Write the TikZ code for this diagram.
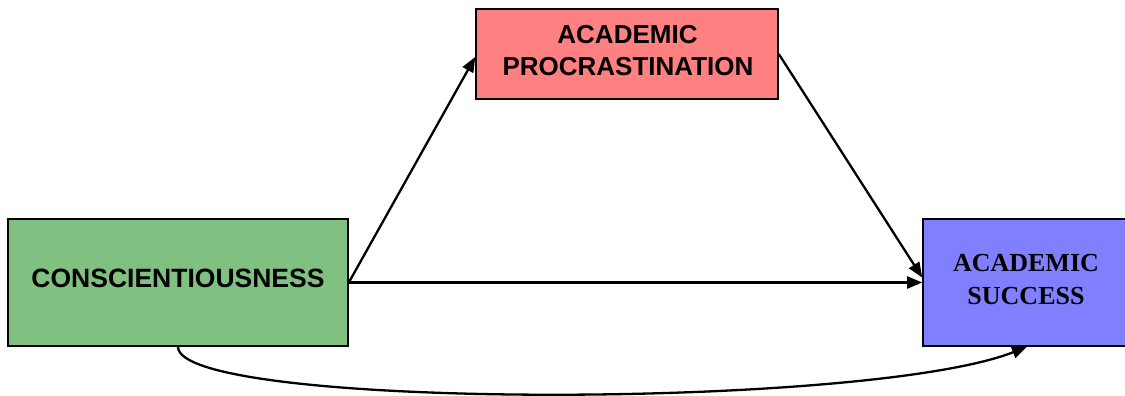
\documentclass[tikz,border=0pt]{standalone}
\usepackage{fontspec}
\newfontfamily\sansf{Liberation Sans}
\newfontfamily\seriff{Liberation Serif}
\usetikzlibrary{arrows.meta,calc}
\definecolor{boxgreen}{HTML}{80C080}
\definecolor{boxred}{HTML}{FF8080}
\definecolor{boxblue}{HTML}{8080FF}
\tikzset{
  box/.style={draw=black, line width=1.6pt, inner sep=0pt},
  lbl/.style={anchor=base, inner sep=0pt, text=black},
  sanslbl/.style={lbl, font=\sansf\bfseries\fontsize{26}{32}\selectfont},
  seriflbl/.style={lbl, font=\seriff\bfseries\fontsize{26}{33}\selectfont},
  conn/.style={line width=2.3pt, -{Triangle[length=15pt,width=12pt]}},
}
\begin{document}
\begin{tikzpicture}[x=1pt,y=-1pt]
\useasboundingbox (0,0) rectangle (1125,396);
\fill[white] (0,0) rectangle (1125,396);
\node[box, fill=boxgreen, minimum width=340pt, minimum height=127pt] (cons) at (178,282.5) {};
\node[box, fill=boxred, minimum width=302pt, minimum height=90pt] (proc) at (627,54) {};
\node[box, fill=boxblue, minimum width=208pt, minimum height=127pt] (succ) at (1027,282.5) {};
\node[sanslbl, font=\sansf\bfseries\fontsize{26.5}{32}\selectfont] (consT) at (178,287) {CONSCIENTIOUSNESS};
\node[sanslbl] (procA) at (627.5,43.5) {ACADEMIC};
\node[sanslbl] (procB) at (628,75.5) {PROCRASTINATION};
\node[seriflbl] (succA) at (1026,271) {ACADEMIC};
\node[seriflbl] (succB) at (1026,304) {SUCCESS};
\draw[conn] (cons.east) -- ($(proc.west)+(0,3)$);
\draw[conn] (proc.east) -- ($(succ.west)+(0,-5)$);
\draw[conn] (cons.east) -- (succ.west);
\draw[conn] (cons.south) .. controls ($(cons.south)+(0,63)$) and ($(succ.south)+(-160,63)$) .. (succ.south);
\end{tikzpicture}
\end{document}
